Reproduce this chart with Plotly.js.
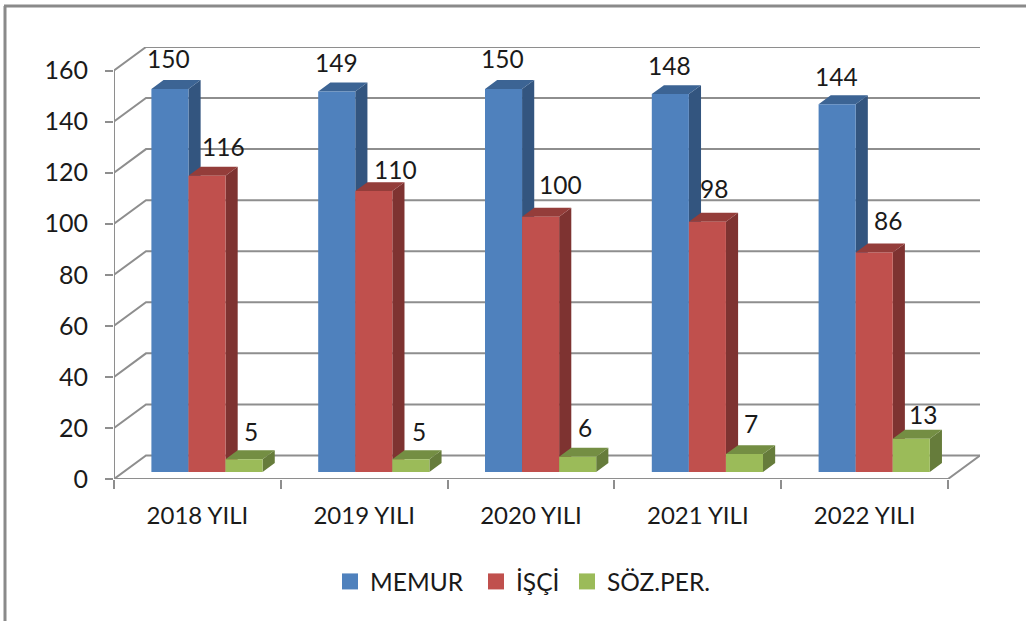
<!DOCTYPE html>
<html><head><meta charset="utf-8">
<script src="https://cdn.plot.ly/plotly-3.0.1.min.js"></script>
<style>html,body{margin:0;padding:0;background:#fff}#c{width:1026px;height:621px}</style>
</head><body><div id="c"></div>
<script>
const categories = ['2018 YILI','2019 YILI','2020 YILI','2021 YILI','2022 YILI'];
const memur = [150,149,150,148,144];
const isci = [116,110,100,98,86];
const sozper = [5,5,6,7,13];
const yTicks = [0,20,40,60,80,100,120,140,160];
const seriesNames = ['MEMUR','İŞÇİ','SÖZ.PER.'];

const frontColors = ['#4F81BD','#C0504D','#9BBB59'];
const sideColors = ['#33557F','#7E3331','#667C3B'];
const topColors = ['#3C6494','#943D3A','#748E43'];
const GRID = '#8E8E8E', FONT = 'Lato, sans-serif', TEXT = '#1A1A1A';

// label nudges in px relative to the centre of each bar's top edge
const labelDx = [[-1,0,-1,-1,-1],[16,22,20,7,14],[7,8,7,7,12]];
const labelDy = [[30,29,30,29,28],[29,22,32,33,32],[28,28,29,31,24]];
const legendLeft = [330,476,567];

// oblique projection, in axis units
const depthX = 32/166.8, depthY = 23.5/2.553;
const floorD = 0.3, barD = 0.38;
const barGap = 1/3, barW = (1-barGap)/3;
const xMax = categories.length + depthX, yMax = 160 + depthY;
const all = [memur, isci, sozper];
const L=114,R=46,T=47,B=142,PW=1026-L-R,PH=621-T-B;

const gridX=[],gridY=[];
const push=(xs,ys)=>{gridX.push(...xs,null);gridY.push(...ys,null);};
yTicks.forEach(v=>{
  push([0,depthX,xMax],[v,v+depthY,v+depthY]);
});
push([0,categories.length,xMax],[0,0,depthY]);
push([0,0],[0,160]);

const traces=[{type:'scatter',mode:'lines',x:gridX,y:gridY,xaxis:'x',yaxis:'y',
  line:{color:GRID,width:2},showlegend:false,hoverinfo:'skip',cliponaxis:false,connectgaps:false}];

all.forEach((vals,s)=>{
  const sx=[],sy=[],tx=[],ty=[];
  const b=floorD*depthY, dx=barD*depthX, dy=barD*depthY;
  vals.forEach((v,i)=>{
    const x0=i+floorD*depthX+barGap/2+s*barW, x1=x0+barW, t=b+v;
    sx.push(x1,x1,x1+dx,x1+dx,x1,null); sy.push(b,t,t+dy,b+dy,b,null);
    tx.push(x0,x1,x1+dx,x0+dx,x0,null); ty.push(t,t,t+dy,t+dy,t,null);
  });
  [[sx,sy,sideColors[s]],[tx,ty,topColors[s]]].forEach(([x,y,c])=>traces.push({
    type:'scatter',mode:'lines',x,y,xaxis:'x',yaxis:'y',fill:'toself',fillcolor:c,
    line:{width:0,color:c},showlegend:false,hoverinfo:'skip'}));
});

all.forEach((vals,s)=>traces.push({
  type:'bar',name:seriesNames[s],xaxis:'x2',yaxis:'y2',
  x:vals.map((_,i)=>i+0.5+floorD*depthX),y:vals,base:vals.map(()=>floorD*depthY),
  marker:{color:frontColors[s],line:{width:0}},showlegend:false}));

const legendKeys=['legend','legend2','legend3'];
seriesNames.forEach((n,s)=>traces.push({
  type:'scatter',mode:'markers',name:n,x:[null],y:[null],xaxis:'x',yaxis:'y',legend:legendKeys[s],
  marker:{symbol:'square',size:16,color:frontColors[s]},showlegend:true,hoverinfo:'skip'}));

const annotations=[];
all.forEach((vals,s)=>vals.forEach((v,i)=>annotations.push({
  xref:'x2',yref:'y2',x:i+floorD*depthX+barGap/2+(s+0.5)*barW,y:v+floorD*depthY,
  text:String(v),showarrow:false,xanchor:'center',yanchor:'middle',
  xshift:labelDx[s][i],yshift:labelDy[s][i],font:{family:FONT,size:24.5,color:TEXT}})));

const px=p=>(p-L)/PW, py=p=>1-(p-T)/PH;
const layout={
  width:1026,height:621,paper_bgcolor:'#fff',plot_bgcolor:'rgba(0,0,0,0)',
  margin:{l:L,r:R,t:T,b:B,pad:0},barmode:'group',bargap:barGap,bargroupgap:0,
  font:{family:FONT,size:22,color:TEXT},
  xaxis:{range:[0,xMax],tickvals:categories.map((_,i)=>i).concat(categories.length),showticklabels:false,
    ticks:'outside',ticklen:9,tickwidth:2,tickcolor:GRID,showgrid:false,zeroline:false,showline:false,fixedrange:true},
  yaxis:{range:[0,yMax],tickvals:yTicks,ticks:'outside',ticklen:8,tickwidth:2,tickcolor:GRID,
    showgrid:false,zeroline:false,showline:false,ticklabelstandoff:12,tickfont:{family:FONT,size:25,color:TEXT},fixedrange:true},
  xaxis2:{range:[0,xMax],overlaying:'x',anchor:'y2',side:'bottom',tickvals:categories.map((_,i)=>i+0.5),ticktext:categories,
    ticks:'',showgrid:false,zeroline:false,showline:false,ticklabelstandoff:20,tickfont:{family:FONT,size:24,color:TEXT},fixedrange:true},
  yaxis2:{range:[0,yMax],overlaying:'y',anchor:'x2',visible:false,fixedrange:true},
  annotations,
  shapes:[
    {type:'line',xref:'paper',yref:'paper',x0:px(5),x1:px(5),y0:py(621),y1:py(6),line:{color:'#8A8A8A',width:3}},
    {type:'line',xref:'paper',yref:'paper',x0:px(4),x1:px(1026),y0:py(6),y1:py(6),line:{color:'#8A8A8A',width:3}}
  ]
};
legendKeys.forEach((k,s)=>{layout[k]={orientation:'h',x:px(legendLeft[s]),xanchor:'left',y:py(559),yanchor:'top',
  font:{family:FONT,size:24.5,color:TEXT},bgcolor:'rgba(0,0,0,0)'};});
Plotly.newPlot('c',traces,layout,{displayModeBar:false,staticPlot:true});
</script></body></html>
